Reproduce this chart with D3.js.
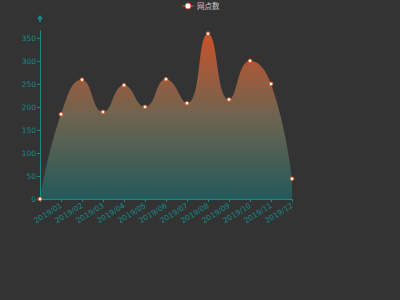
<!DOCTYPE html>
<html>
<head>
<meta charset="utf-8">
<script src="https://cdn.jsdelivr.net/npm/d3@7"></script>
<style>
  html, body { margin: 0; padding: 0; background: #333333; }
  text { font-family: "DejaVu Sans", "Noto Sans CJK SC", sans-serif; }
</style>
</head>
<body>
<div id="chart"></div>
<script>
// data
var categories = ["", "2019/01", "2019/02", "2019/03", "2019/04", "2019/05", "2019/06",
    "2019/07", "2019/08", "2019/09", "2019/10", "2019/11", "2019/12"];
var values = [0, 184, 259, 189, 247, 200, 260, 208, 359, 216, 300, 250, 44];
var yTicks = [0, 50, 100, 150, 200, 250, 300, 350];
var seriesName = "网点数";

var svgWidth = 400;
var svgHeight = 300;
var margin = { top: 30, right: 108, bottom: 101, left: 40 };
var width = svgWidth - margin.left - margin.right;
var height = svgHeight - margin.top - margin.bottom;
var axisColor = "#178a8a";

var svg = d3.select("#chart")
    .append("svg")
    .attr("width", svgWidth)
    .attr("height", svgHeight)
    .style("display", "block");

svg.append("rect")
    .attr("width", svgWidth)
    .attr("height", svgHeight)
    .attr("fill", "#333333");

var grad = svg.append("defs").append("linearGradient")
    .attr("id", "areaGrad")
    .attr("x1", 0).attr("y1", 0).attr("x2", 0).attr("y2", 1);
grad.append("stop").attr("offset", "0%").attr("stop-color", "#c9522a");
grad.append("stop").attr("offset", "50%").attr("stop-color", "#6e6450");
grad.append("stop").attr("offset", "100%").attr("stop-color", "#24595a");

var chart = svg.append("g")
    .attr("transform", `translate(${margin.left}, ${margin.top})`);

var xScale = d3.scalePoint()
    .domain(categories)
    .range([0, width]);

var yScale = d3.scaleLinear()
    .domain([0, 367])
    .range([height, 0]);

// echarts-like smoothing (smooth: 0.5), first/last control point sits on the point
function EchartsCurve(context) { this._context = context; }
EchartsCurve.prototype = {
    areaStart: function() { this._line = 0; },
    areaEnd: function() { this._line = NaN; },
    lineStart: function() { this._pts = []; },
    point: function(x, y) { this._pts.push([+x, +y]); },
    lineEnd: function() {
        var p = this._pts, c = this._context, s = 0.5;
        if (p.length) {
            if (this._line) c.lineTo(p[0][0], p[0][1]);
            else c.moveTo(p[0][0], p[0][1]);
            var cpx0 = p[0][0], cpy0 = p[0][1];
            for (var i = 1; i < p.length; i++) {
                var x = p[i][0], y = p[i][1];
                var px = p[i - 1][0], py = p[i - 1][1];
                var cpx1 = x, cpy1 = y, ncx = x, ncy = y;
                if (i < p.length - 1) {
                    var nx = p[i + 1][0], ny = p[i + 1][1];
                    var vx = nx - px, vy = ny - py;
                    var lp = Math.hypot(x - px, y - py);
                    var ln = Math.hypot(nx - x, ny - y);
                    var r = ln / (ln + lp);
                    ncx = x + vx * s * r;
                    ncy = y + vy * s * r;
                    ncx = Math.max(Math.min(ncx, Math.max(nx, x)), Math.min(nx, x));
                    ncy = Math.max(Math.min(ncy, Math.max(ny, y)), Math.min(ny, y));
                    vx = ncx - x; vy = ncy - y;
                    cpx1 = x - vx * lp / ln;
                    cpy1 = y - vy * lp / ln;
                    cpx1 = Math.max(Math.min(cpx1, Math.max(px, x)), Math.min(px, x));
                    cpy1 = Math.max(Math.min(cpy1, Math.max(py, y)), Math.min(py, y));
                    vx = x - cpx1; vy = y - cpy1;
                    ncx = x + vx * ln / lp;
                    ncy = y + vy * ln / lp;
                }
                c.bezierCurveTo(cpx0, cpy0, cpx1, cpy1, x, y);
                cpx0 = ncx; cpy0 = ncy;
            }
        }
        if (this._line || (this._line !== 0 && p.length === 1)) c.closePath();
        this._line = 1 - this._line;
    }
};
var curveEcharts = function(context) { return new EchartsCurve(context); };

var area = d3.area()
    .x((d, i) => xScale(categories[i]))
    .y0(height)
    .y1(d => yScale(d))
    .curve(curveEcharts);

chart.append("path")
    .datum(values)
    .attr("d", area)
    .attr("fill", "url(#areaGrad)");

// x axis
var bottomAxis = d3.axisBottom(xScale)
    .tickSize(3)
    .tickSizeOuter(0);

var xAxisG = chart.append("g")
    .attr("transform", `translate(0, ${height})`)
    .call(bottomAxis);
xAxisG.select(".domain").attr("stroke", axisColor);
xAxisG.selectAll(".tick line").attr("stroke", axisColor);
xAxisG.selectAll(".tick text")
    .attr("fill", axisColor)
    .attr("font-size", "7.5px")
    .attr("text-anchor", "end")
    .attr("dy", null)
    .attr("y", 0)
    .attr("transform", "translate(1, 8) rotate(-32)");

// y axis
var leftAxis = d3.axisLeft(yScale)
    .tickValues(yTicks)
    .tickSize(3)
    .tickSizeOuter(0);

var yAxisG = chart.append("g").call(leftAxis);
yAxisG.select(".domain").attr("stroke", axisColor);
yAxisG.selectAll(".tick line").attr("stroke", axisColor);
yAxisG.selectAll(".tick text")
    .attr("fill", axisColor)
    .attr("font-size", "7.5px")
    .attr("x", -4);

// arrow at top of the y axis
chart.append("path")
    .attr("d", "M0,-15 L-3,-11 L-1,-11 L-1,-8 L1,-8 L1,-11 L3,-11 Z")
    .attr("fill", axisColor);

// points
chart.selectAll(".pt")
    .data(values)
    .enter()
    .append("circle")
    .attr("class", "pt")
    .attr("cx", (d, i) => xScale(categories[i]))
    .attr("cy", d => yScale(d))
    .attr("r", 1.8)
    .attr("fill", "#ffffff")
    .attr("stroke", "#e2602f")
    .attr("stroke-width", 1);

// legend
var legend = svg.append("g")
    .attr("transform", "translate(188, 6)");
legend.append("line")
    .attr("x1", -6).attr("x2", 6)
    .attr("stroke", "#b8453a")
    .attr("stroke-opacity", 0.6)
    .attr("stroke-width", 2);
legend.append("circle")
    .attr("r", 3)
    .attr("fill", "#ffffff")
    .attr("stroke", "#d9583a")
    .attr("stroke-width", 1);
legend.append("text")
    .attr("x", 9)
    .attr("dy", "0.35em")
    .attr("fill", "#cccccc")
    .attr("font-size", "7.5px")
    .text(seriesName);
</script>
</body>
</html>
